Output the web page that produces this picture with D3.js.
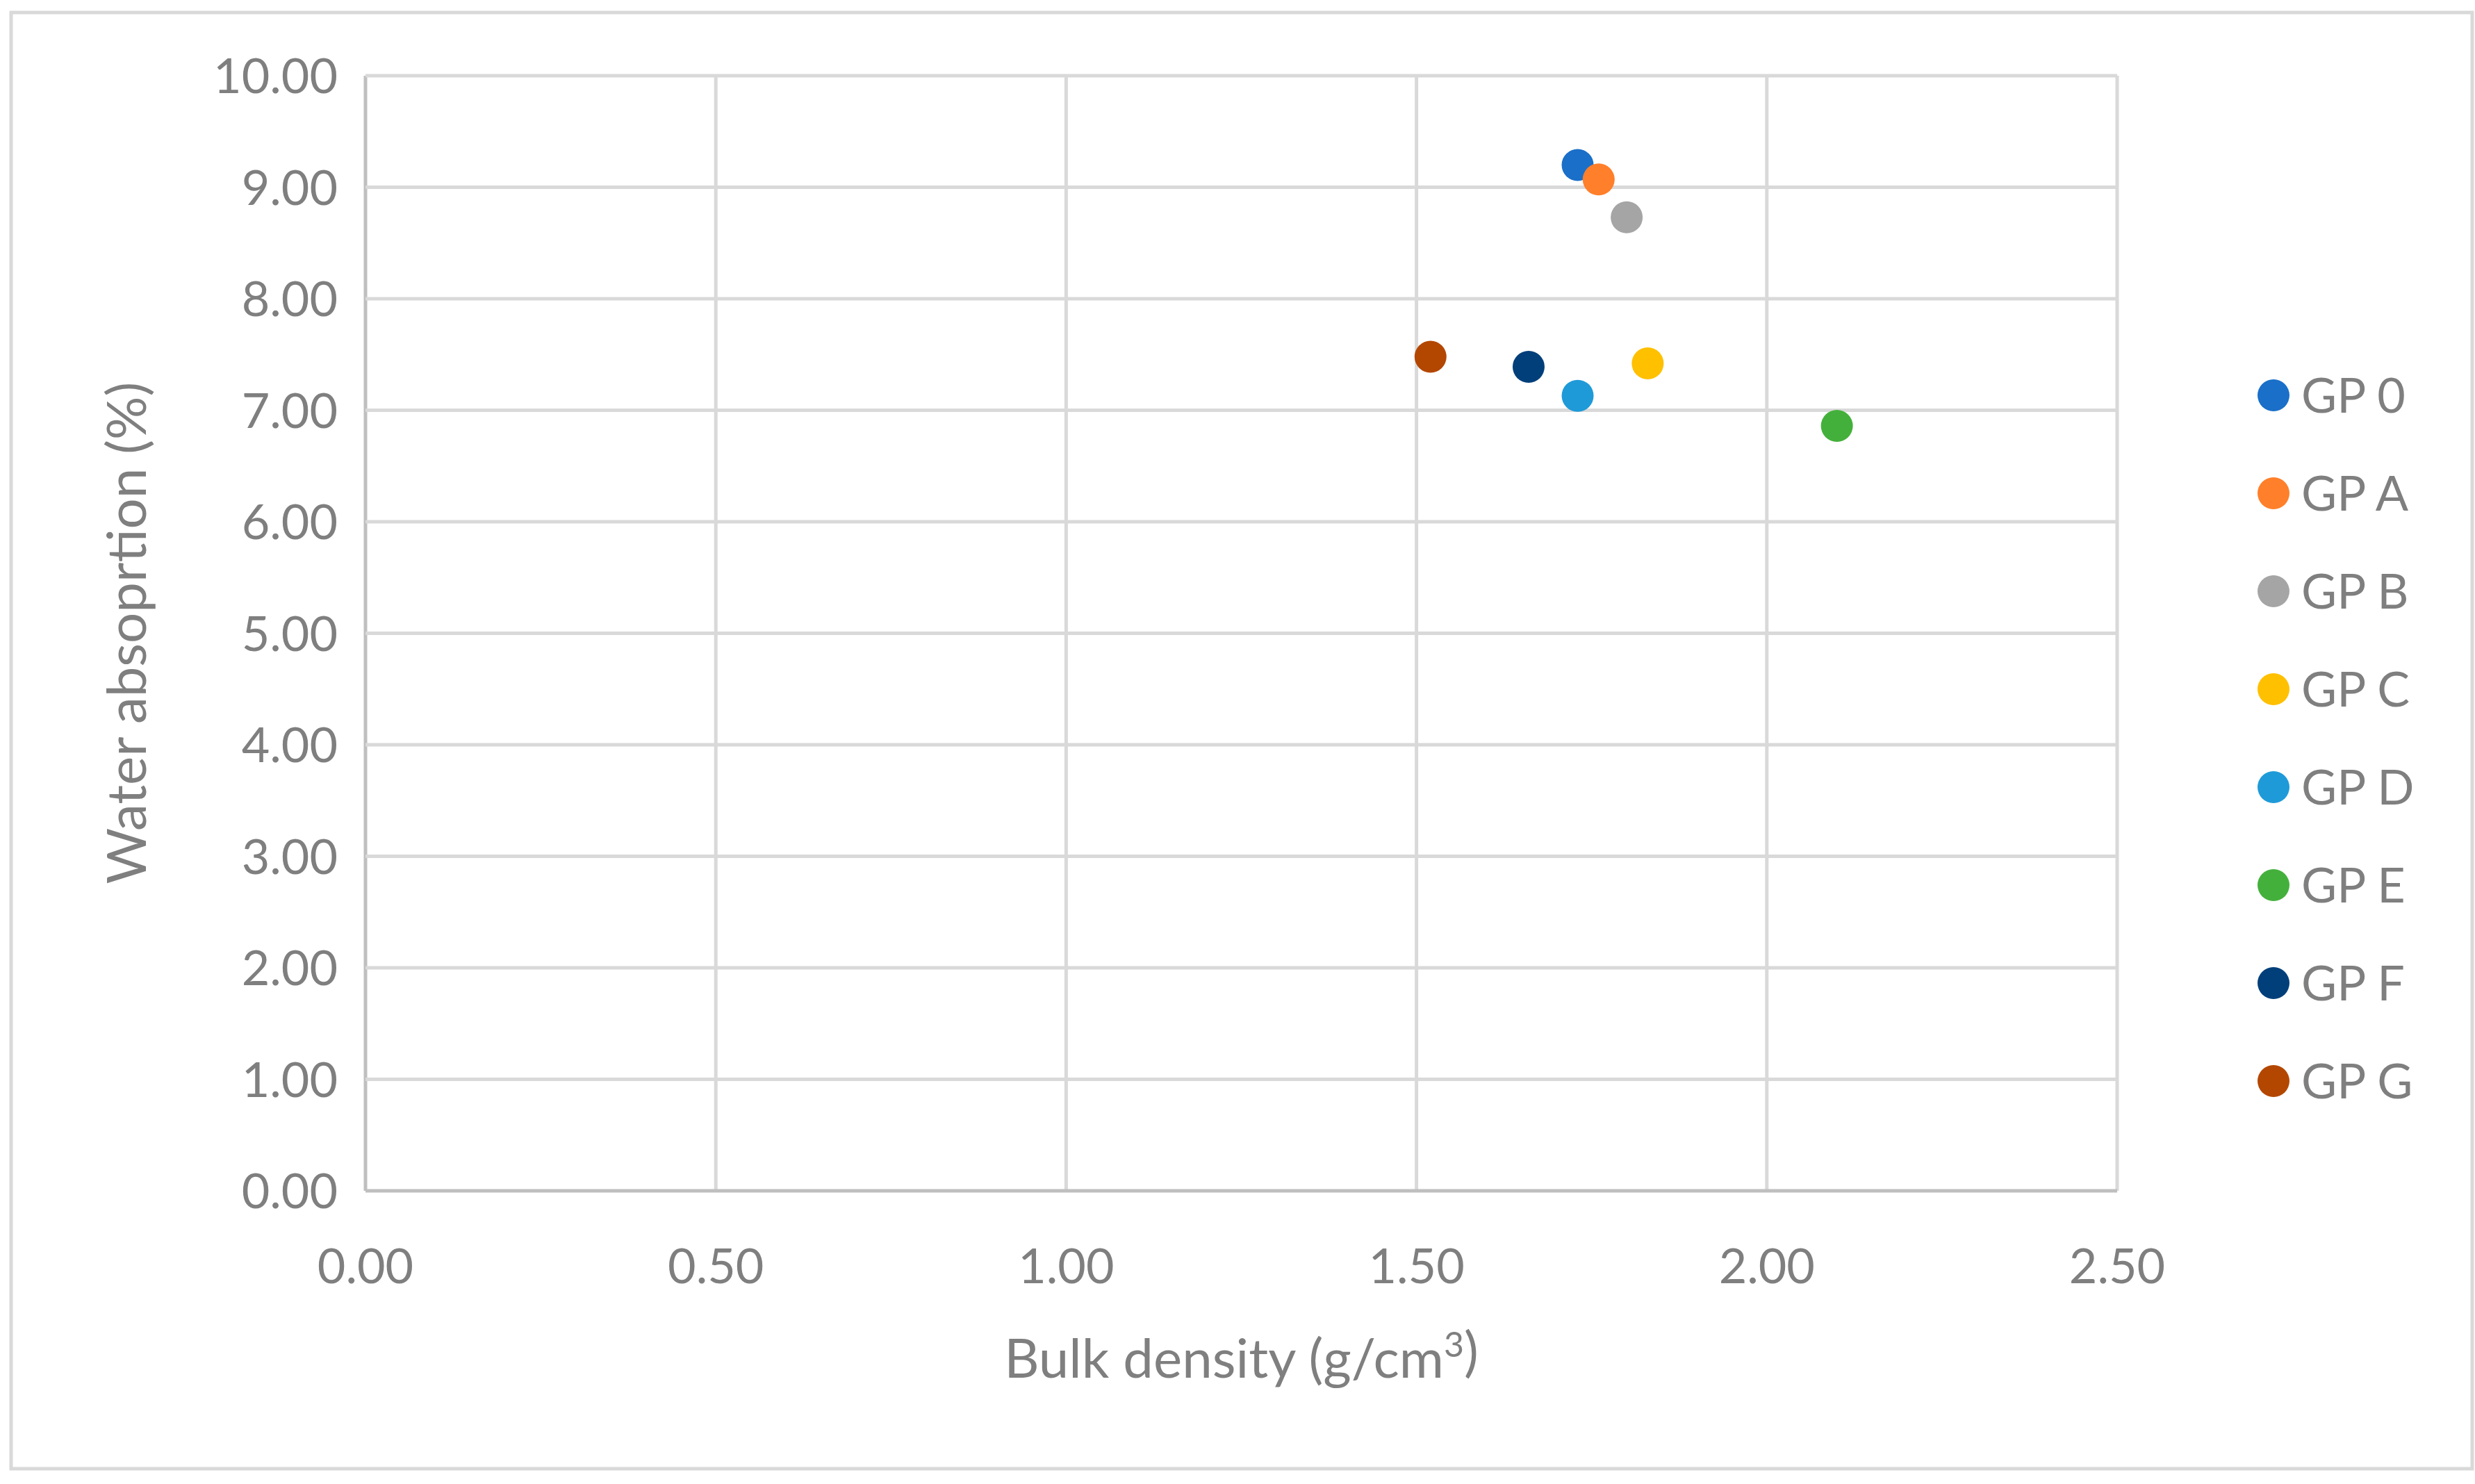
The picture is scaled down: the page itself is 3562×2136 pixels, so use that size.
<!DOCTYPE html>
<html><head><meta charset="utf-8">
<script src="https://cdn.jsdelivr.net/npm/d3@7"></script>
<style>body{margin:0;background:#fff}svg{display:block}text{font-family:Lato,"Open Sans",sans-serif;fill:#7f7f7f}</style>
</head><body>
<script>
var series = ["GP 0","GP A","GP B","GP C","GP D","GP E","GP F","GP G"];
var bulkDensity = [1.73,1.76,1.80,1.83,1.73,2.10,1.66,1.52];
var waterAbs = [9.20,9.07,8.73,7.42,7.13,6.86,7.39,7.48];
var colors = ["#1a6fc8","#ff7f2a","#a5a5a5","#ffc000","#1f9ad8","#44b03c","#003f7a","#b34700"];
var xTicks = [0,0.5,1,1.5,2,2.5];
var yTicks = [0,1,2,3,4,5,6,7,8,9,10];

var W = 3562, H = 2136;
var svg = d3.select("body").append("svg").attr("width", W).attr("height", H);
svg.append("rect").attr("x",16).attr("y",18).attr("width",3542).attr("height",2096)
	.attr("fill","#fff").attr("stroke","#d9d9d9").attr("stroke-width",5);

var x = d3.scaleLinear().domain([0,2.5]).range([526,3047]);
var y = d3.scaleLinear().domain([0,10]).range([1714,109]);

var g = svg.append("g");
g.selectAll("line.v").data(xTicks).enter().append("line")
	.attr("x1",d=>x(d)).attr("x2",d=>x(d)).attr("y1",y(10)).attr("y2",y(0))
	.attr("stroke",(d,i)=> i===0 ? "#bfbfbf" : "#d9d9d9").attr("stroke-width",5);
g.selectAll("line.h").data(yTicks).enter().append("line")
	.attr("x1",x(0)).attr("x2",x(2.5)).attr("y1",d=>y(d)).attr("y2",d=>y(d))
	.attr("stroke",(d,i)=> i===0 ? "#bfbfbf" : "#d9d9d9").attr("stroke-width",5);

g.selectAll("text.yt").data(yTicks).enter().append("text")
	.attr("x",x(0)-40).attr("y",d=>y(d)).attr("dy","0.36em")
	.attr("text-anchor","end").attr("font-size",70).text(d=>d3.format(".2f")(d));
g.selectAll("text.xt").data(xTicks).enter().append("text")
	.attr("x",d=>x(d)).attr("y",1822).attr("dy","0.36em")
	.attr("text-anchor","middle").attr("font-size",70).text(d=>d3.format(".2f")(d));

var xt = svg.append("text").attr("x",x(1.25)).attr("y",1955).attr("dy","0.36em")
	.attr("text-anchor","middle").attr("font-size",78);
xt.append("tspan").text("Bulk density (g/cm");
xt.append("tspan").attr("font-size",50).attr("dy","-0.6em").text("3");
xt.append("tspan").attr("font-size",78).attr("dy","0.26em").text(")");

svg.append("text").attr("transform","translate(182,911) rotate(-90)")
	.attr("dy","0.36em").attr("text-anchor","middle").attr("font-size",78)
	.text("Water absoprtion (%)");

svg.append("g").selectAll("circle").data(series).enter().append("circle")
	.attr("cx",(d,i)=>x(bulkDensity[i])).attr("cy",(d,i)=>y(waterAbs[i]))
	.attr("r",23).attr("fill",(d,i)=>colors[i]);

var leg = svg.append("g").selectAll("g").data(series).enter().append("g")
	.attr("transform",(d,i)=>"translate(3272," + (569 + i*141) + ")");
leg.append("circle").attr("r",23).attr("fill",(d,i)=>colors[i]);
leg.append("text").attr("x",40).attr("dy","0.36em").attr("font-size",70).text(d=>d);
</script>
</body></html>
